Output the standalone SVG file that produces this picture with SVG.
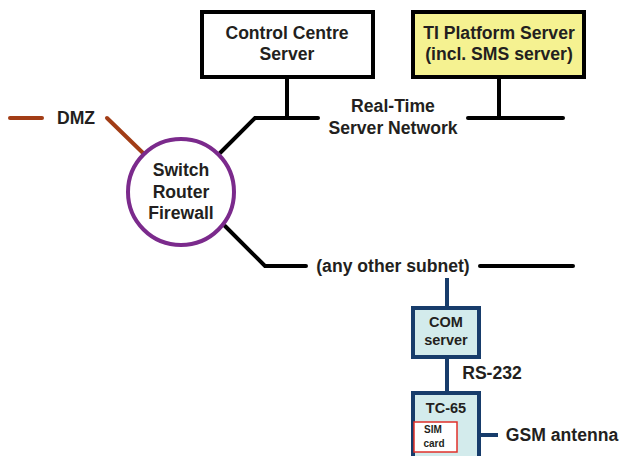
<svg xmlns="http://www.w3.org/2000/svg" width="622" height="456" viewBox="0 0 622 456">
<style>
text{font-family:"Liberation Sans",Arial,sans-serif;font-weight:bold;fill:#231f20;text-anchor:middle;dominant-baseline:central}
.t{font-size:17.6px}
.m{font-size:14.5px}
.s{font-size:10px}
.net{stroke:#000;stroke-width:4;fill:none;stroke-linecap:round}
.blue{stroke:#173c6b;stroke-width:4;fill:none}
.dmz{stroke:#a23d16;stroke-width:4;fill:none;stroke-linecap:round}
</style>
<rect width="622" height="456" fill="#fff"/>
<g id="connectors">
<polyline class="net" points="287,77 287,118"/>
<polyline class="net" points="220,153 255,118 318,118"/>
<polyline class="net" points="468,118 563,118"/>
<polyline class="net" points="499,77 499,118"/>
<polyline class="net" points="225,226 265,266 306,266"/>
<polyline class="net" points="480,266 573,266"/>
<line class="dmz" x1="10" y1="118" x2="42" y2="118"/>
<line class="dmz" x1="107" y1="118" x2="143" y2="153"/>
<line class="blue" x1="447" y1="278" x2="447" y2="308"/>
<line class="blue" x1="447" y1="357" x2="447" y2="393"/>
<line class="blue" x1="479" y1="435" x2="498" y2="435"/>
<text class="t" x="393" y="106">Real-Time</text>
<text class="t" x="393" y="128">Server Network</text>
<text class="t" x="393" y="266">(any other subnet)</text>
<text class="t" x="76" y="118">DMZ</text>
<text class="t" x="492" y="373">RS-232</text>
<text class="t" x="562" y="435">GSM antenna</text>
</g>
<g id="control-centre">
<rect x="202" y="12" width="171" height="65" fill="#fff" stroke="#000" stroke-width="4"/>
<text class="t" x="287" y="33">Control Centre</text>
<text class="t" x="287" y="54">Server</text>
</g>
<g id="ti-platform">
<rect x="413" y="12" width="171" height="65" fill="#f5f291" stroke="#000" stroke-width="4"/>
<text class="t" x="499" y="33">TI Platform Server</text>
<text class="t" x="499" y="54">(incl. SMS server)</text>
</g>
<g id="router">
<circle cx="181" cy="192" r="53" fill="#fff" stroke="#7b2a8c" stroke-width="4"/>
<text class="t" x="181" y="170">Switch</text>
<text class="t" x="181" y="192">Router</text>
<text class="t" x="181" y="213">Firewall</text>
</g>
<g id="com-server">
<rect x="413" y="308" width="66" height="49" fill="#d3ebec" stroke="#173c6b" stroke-width="4"/>
<text class="m" x="446" y="322">COM</text>
<text class="m" x="446" y="340">server</text>
</g>
<g id="tc65">
<rect x="413" y="393" width="66" height="70" fill="#d3ebec" stroke="#173c6b" stroke-width="4"/>
<text class="m" x="446" y="408">TC-65</text>
<rect x="414" y="422" width="43" height="30" fill="#fff" stroke="#e0302a" stroke-width="1.5"/>
<text class="s" x="433" y="429">SIM</text>
<text class="s" x="434" y="443">card</text>
</g>
</svg>
